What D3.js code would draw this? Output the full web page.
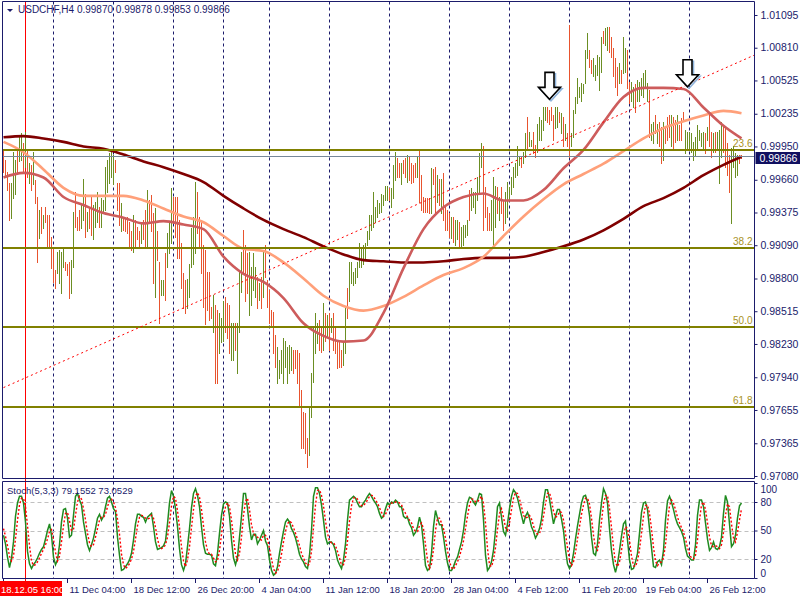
<!DOCTYPE html>
<html>
<head>
<meta charset="utf-8">
<script src="https://cdn.jsdelivr.net/npm/d3@7"></script>
<style>
  body { margin: 0; background: #fff; }
  svg { display: block; }
  text { font-family: "Liberation Sans", Arial, sans-serif; }
</style>
</head>
<body>
<svg id="chart" width="800" height="600"></svg>
<script>
// USDCHF H4 bars (high / low per bar, u = up bar, d = down bar)
var highs = [
  0.9992,0.9983,0.9973,0.9963,0.9963,0.9990,0.9983,0.9992,1.0003,1.0007,
  0.9998,1.0008,0.9992,0.9981,0.9979,0.9990,0.9966,0.9951,0.9940,0.9942,
  0.9935,0.9942,0.9935,0.9935,0.9916,0.9907,0.9887,0.9903,0.9905,0.9903,
  0.9907,0.9894,0.9893,0.9894,0.9896,0.9938,0.9955,0.9934,0.9940,0.9944,
  0.9967,0.9954,0.9938,0.9941,0.9951,0.9944,0.9947,0.9955,0.9942,0.9950,
  0.9948,0.9977,0.9983,0.9989,0.9992,0.9988,0.9983,0.9963,0.9963,0.9946,
  0.9934,0.9933,0.9934,0.9929,0.9921,0.9935,0.9931,0.9925,0.9921,0.9929,
  0.9931,0.9940,0.9957,0.9948,0.9953,0.9937,0.9941,0.9921,0.9894,0.9879,
  0.9879,0.9902,0.9920,0.9928,0.9959,0.9951,0.9951,0.9951,0.9931,0.9911,
  0.9885,0.9879,0.9880,0.9893,0.9924,0.9934,0.9964,0.9955,0.9934,0.9931,
  0.9909,0.9905,0.9886,0.9886,0.9855,0.9866,0.9857,0.9853,0.9850,0.9846,
  0.9860,0.9864,0.9859,0.9857,0.9841,0.9841,0.9841,0.9841,0.9887,0.9903,
  0.9922,0.9909,0.9902,0.9903,0.9890,0.9902,0.9890,0.9881,0.9876,0.9881,
  0.9903,0.9909,0.9879,0.9870,0.9853,0.9851,0.9831,0.9820,0.9809,0.9818,
  0.9828,0.9826,0.9820,0.9822,0.9820,0.9818,0.9818,0.9818,0.9815,0.9783,
  0.9764,0.9763,0.9741,0.9767,0.9798,0.9837,0.9850,0.9841,0.9844,0.9838,
  0.9859,0.9850,0.9848,0.9850,0.9846,0.9850,0.9838,0.9826,0.9825,0.9818,
  0.9824,0.9854,0.9872,0.9894,0.9894,0.9886,0.9889,0.9894,0.9911,0.9907,
  0.9909,0.9911,0.9921,0.9935,0.9935,0.9955,0.9942,0.9948,0.9946,0.9954,
  0.9953,0.9961,0.9961,0.9959,0.9959,0.9979,0.9990,0.9985,0.9981,0.9981,
  0.9983,0.9985,0.9988,0.9986,0.9981,0.9979,0.9981,0.9986,0.9992,0.9970,
  0.9951,0.9950,0.9950,0.9950,0.9976,0.9975,0.9977,0.9970,0.9967,0.9967,
  0.9972,0.9942,0.9940,0.9937,0.9934,0.9934,0.9931,0.9931,0.9929,0.9925,
  0.9927,0.9927,0.9931,0.9957,0.9959,0.9955,0.9955,0.9968,0.9989,0.9998,
  0.9995,0.9960,0.9942,0.9937,0.9948,0.9968,0.9961,0.9960,0.9951,0.9960,
  0.9948,0.9955,0.9964,0.9960,0.9968,0.9977,0.9981,0.9995,0.9986,0.9986,
  0.9990,1.0007,1.0021,1.0008,1.0001,1.0008,0.9996,1.0015,1.0021,1.0018,
  1.0029,1.0029,1.0029,1.0027,1.0029,1.0022,1.0029,1.0029,1.0025,1.0024,
  1.0021,1.0015,1.0007,1.0101,1.0007,1.0027,1.0038,1.0055,1.0047,1.0050,
  1.0049,1.0079,1.0094,1.0079,1.0070,1.0072,1.0066,1.0075,1.0073,1.0090,
  1.0096,1.0098,1.0099,1.0099,1.0090,1.0081,1.0072,1.0064,1.0068,1.0062,
  1.0090,1.0081,1.0079,1.0051,1.0051,1.0047,1.0049,1.0053,1.0051,1.0055,
  1.0059,1.0062,1.0050,1.0044,1.0015,1.0016,1.0022,1.0015,1.0016,1.0012,
  1.0016,1.0012,1.0021,1.0022,1.0022,1.0021,1.0018,1.0022,1.0014,1.0020,
  1.0025,1.0009,1.0008,1.0008,1.0007,0.9999,1.0003,1.0014,1.0009,1.0007,
  1.0008,1.0007,1.0012,1.0024,1.0008,1.0007,1.0008,1.0008,1.0009,1.0016,
  1.0012,1.0012,0.9998,0.9988,0.9994,0.9995,0.9989,0.9988,0.9988,0.9988
];
var lows = [
  0.9973,0.9968,0.9957,0.9931,0.9933,0.9950,0.9954,0.9973,0.9982,0.9983,
  0.9973,0.9977,0.9968,0.9963,0.9957,0.9962,0.9946,0.9894,0.9915,0.9920,
  0.9924,0.9929,0.9907,0.9907,0.9889,0.9877,0.9872,0.9885,0.9876,0.9867,
  0.9890,0.9887,0.9883,0.9863,0.9867,0.9890,0.9925,0.9922,0.9922,0.9924,
  0.9931,0.9916,0.9921,0.9924,0.9918,0.9914,0.9925,0.9929,0.9925,0.9925,
  0.9938,0.9940,0.9955,0.9963,0.9968,0.9962,0.9973,0.9940,0.9927,0.9921,
  0.9922,0.9921,0.9920,0.9907,0.9905,0.9903,0.9907,0.9914,0.9907,0.9911,
  0.9914,0.9907,0.9907,0.9928,0.9921,0.9876,0.9864,0.9896,0.9841,0.9866,
  0.9866,0.9861,0.9890,0.9902,0.9911,0.9928,0.9916,0.9898,0.9898,0.9872,
  0.9854,0.9850,0.9854,0.9864,0.9890,0.9893,0.9902,0.9920,0.9907,0.9885,
  0.9855,0.9840,0.9853,0.9844,0.9846,0.9833,0.9789,0.9789,0.9815,0.9825,
  0.9826,0.9833,0.9828,0.9815,0.9809,0.9809,0.9818,0.9798,0.9833,0.9868,
  0.9886,0.9860,0.9867,0.9848,0.9857,0.9870,0.9864,0.9854,0.9861,0.9854,
  0.9864,0.9881,0.9855,0.9841,0.9838,0.9815,0.9803,0.9789,0.9793,0.9798,
  0.9789,0.9803,0.9789,0.9798,0.9800,0.9798,0.9802,0.9789,0.9768,0.9732,
  0.9732,0.9728,0.9716,0.9726,0.9759,0.9790,0.9815,0.9824,0.9818,0.9816,
  0.9818,0.9826,0.9829,0.9818,0.9833,0.9818,0.9815,0.9802,0.9803,0.9803,
  0.9805,0.9815,0.9846,0.9860,0.9876,0.9874,0.9876,0.9881,0.9890,0.9890,
  0.9893,0.9896,0.9909,0.9914,0.9922,0.9925,0.9929,0.9934,0.9937,0.9938,
  0.9944,0.9948,0.9948,0.9948,0.9942,0.9950,0.9966,0.9968,0.9968,0.9962,
  0.9972,0.9968,0.9964,0.9966,0.9963,0.9964,0.9968,0.9968,0.9947,0.9940,
  0.9938,0.9938,0.9938,0.9937,0.9937,0.9962,0.9937,0.9947,0.9944,0.9937,
  0.9931,0.9922,0.9922,0.9916,0.9915,0.9912,0.9909,0.9914,0.9907,0.9907,
  0.9909,0.9916,0.9918,0.9931,0.9940,0.9942,0.9937,0.9948,0.9954,0.9977,
  0.9922,0.9934,0.9922,0.9922,0.9922,0.9907,0.9925,0.9937,0.9931,0.9937,
  0.9922,0.9928,0.9934,0.9948,0.9954,0.9960,0.9968,0.9970,0.9979,0.9977,
  0.9981,0.9986,0.9992,0.9995,0.9995,0.9989,0.9986,0.9990,1.0001,1.0001,
  1.0009,1.0018,1.0016,1.0015,1.0018,1.0001,1.0011,1.0012,1.0016,1.0007,
  0.9995,1.0001,0.9995,0.9986,0.9995,1.0003,1.0024,1.0033,1.0038,1.0035,
  1.0042,1.0050,1.0072,1.0064,1.0059,1.0056,1.0053,1.0057,1.0044,1.0060,
  1.0085,1.0083,1.0079,1.0077,1.0073,1.0056,1.0047,1.0040,1.0050,1.0050,
  1.0059,1.0060,1.0046,1.0033,1.0035,1.0029,1.0025,1.0035,1.0035,1.0040,
  1.0038,1.0047,1.0035,1.0003,1.0001,0.9998,1.0007,0.9998,0.9995,0.9981,
  0.9983,0.9998,1.0001,1.0003,0.9995,0.9994,0.9999,1.0001,1.0001,1.0001,
  1.0018,0.9989,0.9994,0.9992,0.9990,0.9983,0.9988,0.9994,1.0001,0.9995,
  0.9994,0.9989,1.0001,0.9995,0.9986,0.9990,0.9990,0.9992,0.9963,0.9986,
  0.9990,0.9977,0.9970,0.9955,0.9928,0.9977,0.9968,0.9970,0.9981,0.9985
];
var dirs = ("dddduuuduu" + "dudududdud" + "udddddduuu" + "uddduudddu" + "ududduuudu" +
  "uuuuuudddu" + "dddddudddu" + "dduddduddu" + "uduuuddddd" + "dduuuuuddd" +
  "dddddudduu" + "uddduuduuu" + "ddduuuudud" + "udddddduuu" + "uuuuuddddd" +
  "ddduuuuudd" + "udududdddd" + "uuduuuuuuu" + "uuuuuuuuuu" + "uuuduuuddu" +
  "dduddddudd" + "dddduddudu" + "dddduduudu" + "uuuduuuuuu" + "dddduuudud" +
  "duuuuuuuud" + "uuduudduuu" + "uudddduudu" + "dudduuuuuu" + "uuudduuuuu" +
  "duudddddud" + "uudduuduuu" + "uuuduududd" + "uddduddudd" + "duuuuuuuuu" +
  "ududduduuu" + "dddduuuudd").split("");

// moving averages, sampled every 10 bars
var maBars = [0,10,20,30,40,50,60,70,80,90,100,110,120,130,140,150,160,170,180,190,
  200,210,220,230,240,250,260,270,280,290,300,310,320,330,340,350,360,369];
var maSlow = [1.0003,1.0004,1.0002,0.9999,0.9995,0.9993,0.9988,0.9982,0.9977,0.9971,
  0.9964,0.9952,0.9941,0.9931,0.9923,0.9916,0.9908,0.9901,0.9896,0.9895,
  0.9894,0.9894,0.9895,0.9897,0.9898,0.9898,0.9899,0.9903,0.9908,0.9914,
  0.9922,0.9932,0.9943,0.9950,0.9959,0.9970,0.9979,0.9986];
var maMid = [0.9999,0.9990,0.9975,0.9959,0.9952,0.9952,0.9952,0.9948,0.9941,0.9934,
  0.9929,0.9917,0.9906,0.9904,0.9894,0.9880,0.9865,0.9856,0.9852,0.9856,
  0.9864,0.9874,0.9883,0.9889,0.9899,0.9917,0.9934,0.9949,0.9962,0.9971,
  0.9980,0.9991,1.0002,1.0011,1.0017,1.0022,1.0026,1.0024];
var maFast = [0.9968,0.9972,0.9968,0.9951,0.9944,0.9937,0.9933,0.9928,0.9930,0.9927,
  0.9923,0.9899,0.9884,0.9877,0.9863,0.9841,0.9830,0.9825,0.9826,0.9850,
  0.9889,0.9923,0.9942,0.9951,0.9954,0.9948,0.9948,0.9957,0.9976,0.9992,
  1.0016,1.0038,1.0046,1.0046,1.0045,1.0029,1.0013,1.0002];

// Stochastic(5,3,3): %K and %D per bar
var stochK = [
  45,36,22,11,21,38,65,79,86,86, 79,59,28,15,10,14,17,21,26,30,
  33,41,50,57,45,22,14,19,35,59, 72,73,63,43,45,66,86,89,82,77,
  59,47,35,29,35,42,52,63,67,61, 65,75,84,86,80,73,70,43,24,8,
  9,12,15,19,26,40,57,67,67,65, 64,59,64,66,68,54,38,30,31,32,
  34,39,57,79,92,86,73,54,31,14, 8,15,33,52,74,89,94,87,75,54,
  35,26,25,25,24,15,13,26,47,66, 78,80,79,65,40,21,14,22,43,65,
  89,89,73,54,40,46,46,36,40,45, 50,39,34,19,8,3,5,12,26,38,
  49,59,62,59,52,48,42,34,25,20, 17,12,10,24,50,86,95,95,89,77,
  61,43,36,38,38,35,29,19,14,10, 19,36,61,82,84,86,84,79,75,75,
  79,82,86,89,86,82,79,75,68,63, 65,73,79,77,80,79,82,80,75,75,
  65,63,64,57,53,45,48,54,64,56, 36,13,8,10,26,54,71,63,56,56,
  43,28,16,8,8,12,18,22,30,38, 50,67,79,85,84,80,77,82,89,88,
  61,24,8,11,17,29,50,75,79,64, 49,45,57,73,86,93,90,84,75,66,
  57,65,69,63,54,49,42,46,52,62, 80,93,93,83,70,57,65,72,72,62,
  50,30,15,10,14,26,41,55,67,79, 86,87,80,66,43,26,24,36,61,79,
  94,89,79,52,29,14,6,15,29,44, 57,60,40,19,9,10,17,26,47,69,
  79,80,72,52,32,12,11,17,19,14, 29,61,81,86,80,72,63,57,53,49,
  43,31,23,21,19,19,35,66,82,82, 75,58,41,29,32,38,31,30,33,43,
  68,87,80,57,33,36,45,63,76,79
];
var stochD = [
  52,44,34,23,18,23,41,61,77,84, 84,75,55,34,18,13,14,17,21,26,
  30,35,41,49,51,41,27,18,23,38, 55,68,69,60,50,51,66,80,86,83,
  73,61,47,37,33,35,43,52,61,64, 64,67,75,82,83,80,74,62,46,25,
  14,10,12,15,20,28,41,55,64,66, 65,63,62,63,66,63,53,41,33,31,
  32,35,43,58,76,86,84,71,53,33, 18,12,19,33,53,72,86,90,85,72,
  55,38,29,25,25,21,17,18,29,46, 64,75,79,75,61,42,25,19,26,43,
  66,81,84,72,56,47,44,43,41,40, 45,45,41,31,20,10,5,7,14,25,
  38,49,57,60,58,53,47,41,34,26, 21,16,13,15,28,53,77,92,93,87,
  76,60,47,39,37,37,34,28,21,14, 14,22,39,60,76,84,85,83,79,76,
  76,79,82,86,87,86,82,79,74,69, 65,67,72,76,79,79,80,80,79,77,
  72,68,64,61,58,52,49,49,55,58, 52,35,19,10,15,30,50,63,63,58,
  52,42,29,17,11,9,13,17,23,30, 39,52,65,77,83,83,80,80,83,86,
  79,58,31,14,12,19,32,51,68,73, 64,53,50,58,72,84,90,89,83,75,
  66,63,64,66,62,55,48,46,47,53, 65,78,89,90,82,70,64,65,70,69,
  61,47,32,18,13,17,27,41,54,67, 77,84,84,78,63,45,31,29,40,59,
  78,87,87,73,53,32,16,12,17,29, 43,54,52,40,23,13,12,18,30,47,
  65,76,77,68,52,32,18,13,16,17, 21,35,57,76,82,79,72,64,58,53,
  48,41,32,25,21,20,24,40,61,77, 80,72,58,43,34,33,34,33,31,35,
  48,66,78,75,57,42,38,48,61,73
];

var priceTicks = [1.01095,1.00810,1.00525,1.00235,0.99950,0.99660,0.99375,0.99090,
  0.98800,0.98515,0.98230,0.97940,0.97655,0.97365,0.97080];
var stochTicks = [100, 80, 50, 20, 0];
var stochLevels = [80, 50, 20];
var timeLabels = ["11 Dec 04:00","18 Dec 12:00","26 Dec 20:00","4 Jan 04:00","11 Jan 12:00",
  "18 Jan 20:00","28 Jan 04:00","4 Feb 12:00","11 Feb 20:00","19 Feb 04:00","26 Feb 12:00"];
var timeLabelBars = [32,64,96,128,160,192,224,256,288,320,352];
var weekStartBars = [25,55,85,110,133,163,193,223,253,283,313,343];
var cursorBar = 11, cursorLabel = "18.12.05 16:00";
var fibHigh = 1.0130, fibLow = 0.9545, fibLevels = [23.6, 38.2, 50.0, 61.8];
var trendBars = [0, 376], trendPrices = [0.9785, 1.0075];
var arrowBars = [273, 342], arrowPrices = [1.0036, 1.0047];
var lastOHLC = [0.99870, 0.99878, 0.99853, 0.99866];
var stochTitle = "Stoch(5,3,3) 79.1552 73.0529";

var upColor = "#6b8e23", downColor = "#e8542e", navy = "#1b1b6b";
var left = 2.5, right = 754.5, mainTop = 1.5, mainBottom = 478.5, stTop = 481.5, stBottom = 578.5;

var svg = d3.select("#chart");
var x = d3.scaleLinear().domain([0, 369]).range([3.5, 741.5]);
var y = d3.scaleLinear().domain([0.97080, 1.01095]).range([476, 15]);
var ys = d3.scaleLinear().domain([0, 100]).range([578, 483]);

var defs = svg.append("defs");
defs.append("clipPath").attr("id", "clipMain").append("rect")
  .attr("x", left).attr("y", mainTop).attr("width", right - left).attr("height", mainBottom - mainTop);
defs.append("clipPath").attr("id", "clipStoch").append("rect")
  .attr("x", left).attr("y", stTop).attr("width", right - left).attr("height", stBottom - stTop);

// weekly separators
svg.append("g").selectAll("line").data(weekStartBars).join("line")
  .attr("x1", function (d) { return x(d); }).attr("x2", function (d) { return x(d); })
  .attr("y1", mainTop).attr("y2", stBottom)
  .attr("stroke", navy).attr("stroke-dasharray", "3,3");

// cursor line
svg.append("line").attr("x1", x(cursorBar)).attr("x2", x(cursorBar))
  .attr("y1", mainTop).attr("y2", 581).attr("stroke", "#ff0000");

var main = svg.append("g").attr("clip-path", "url(#clipMain)");

// price bars
main.append("g").selectAll("line").data(highs).join("line")
  .attr("x1", function (d, i) { return x(i); }).attr("x2", function (d, i) { return x(i); })
  .attr("y1", function (d) { return Math.round(y(d)); })
  .attr("y2", function (d, i) { return Math.round(y(lows[i])) + 1; })
  .attr("stroke", function (d, i) { return dirs[i] === "u" ? upColor : downColor; });

// moving averages
var maLine = d3.line().x(function (d, i) { return x(maBars[i]); }).y(function (d) { return y(d); })
  .curve(d3.curveMonotoneX);
[[maSlow, "#800000"], [maMid, "#ffa07a"], [maFast, "#cd5c5c"]].forEach(function (m) {
  main.append("path").attr("d", maLine(m[0])).attr("fill", "none")
    .attr("stroke", m[1]).attr("stroke-width", 2.6);
});

// fibonacci levels
fibLevels.forEach(function (lvl) {
  var py = Math.round(y(fibHigh - (fibHigh - fibLow) * lvl / 100));
  main.append("line").attr("x1", left).attr("x2", right).attr("y1", py).attr("y2", py)
    .attr("stroke", "#808000").attr("stroke-width", 2);
  main.append("text").attr("x", right - 2).attr("y", py - 3).attr("text-anchor", "end")
    .attr("font-size", 10).attr("fill", "#a8921e").text(d3.format(".1f")(lvl));
});

// last price line
var lastY = Math.round(y(lastOHLC[3])) + 0.5;
main.append("line").attr("x1", left).attr("x2", right).attr("y1", lastY).attr("y2", lastY)
  .attr("stroke", "#778899");

// trend line (ray)
var slope = (trendPrices[1] - trendPrices[0]) / (trendBars[1] - trendBars[0]);
var endBar = x.invert(right);
main.append("line")
  .attr("x1", x(trendBars[0])).attr("y1", y(trendPrices[0]))
  .attr("x2", right).attr("y2", y(trendPrices[0] + slope * (endBar - trendBars[0])))
  .attr("stroke", "#ff0000").attr("stroke-dasharray", "2,3");

// arrows
function arrowPath(cx, ty, dx) {
  return "M" + (cx - 4.5 + dx) + "," + (ty - 27) + "H" + (cx + 4.5 + dx) + "V" + (ty - 12) +
    "H" + (cx + 11 + dx) + "L" + (cx + dx) + "," + ty + "L" + (cx - 11 + dx) + "," + (ty - 12) +
    "H" + (cx - 4.5 + dx) + "Z";
}
arrowBars.forEach(function (b, i) {
  var cx = x(b), ty = y(arrowPrices[i]);
  main.append("path").attr("d", arrowPath(cx, ty + 1.5, 1.5)).attr("fill", "none")
    .attr("stroke", "#8fb4dc").attr("stroke-width", 1.6);
  main.append("path").attr("d", arrowPath(cx, ty, 0)).attr("fill", "#fff")
    .attr("stroke", "#000").attr("stroke-width", 1.6);
});

// stochastic panel
var st = svg.append("g").attr("clip-path", "url(#clipStoch)");
st.selectAll("line.lvl").data(stochLevels).join("line").attr("class", "lvl")
  .attr("x1", left).attr("x2", right)
  .attr("y1", function (d) { return Math.round(ys(d)) + 0.5; })
  .attr("y2", function (d) { return Math.round(ys(d)) + 0.5; })
  .attr("stroke", "#c0c0c0").attr("stroke-dasharray", "4,3");
var stLine = d3.line().x(function (d, i) { return x(i); }).y(function (d) { return ys(d); });
st.append("path").attr("d", stLine(stochK)).attr("fill", "none")
  .attr("stroke", "#1f8a1f").attr("stroke-width", 1.5);
st.append("path").attr("d", stLine(stochD)).attr("fill", "none")
  .attr("stroke", "#ff0000").attr("stroke-width", 1.4).attr("stroke-dasharray", "2,2");

// frames
svg.append("path")
  .attr("d", "M" + left + "," + mainTop + "H" + right + "V" + mainBottom + "H" + left + "Z" +
    "M" + left + "," + stTop + "H" + right + "V" + stBottom + "H" + left + "Z")
  .attr("fill", "none").attr("stroke", navy);

// price axis
var pAxis = svg.append("g").attr("transform", "translate(" + right + ",0)")
  .call(d3.axisRight(y).tickValues(priceTicks).tickSize(3).tickPadding(3).tickFormat(d3.format(".5f")));
pAxis.select(".domain").remove();
pAxis.selectAll("line").attr("stroke", navy);
pAxis.selectAll("text").attr("fill", navy).attr("font-size", 10.5).attr("dy", "0.3em")
  .attr("font-family", "Liberation Sans, Arial, sans-serif");

// last price marker
svg.append("rect").attr("x", right + 1).attr("y", lastY - 4.5).attr("width", 45).attr("height", 12)
  .attr("fill", "#101060");
svg.append("text").attr("x", right + 5).attr("y", lastY + 5).attr("fill", "#fff")
  .attr("font-size", 10.5).text(d3.format(".5f")(lastOHLC[3]));

// stochastic axis
var sAxis = svg.append("g").attr("transform", "translate(" + right + ",0)")
  .call(d3.axisRight(ys).tickValues(stochTicks).tickSize(3).tickPadding(3));
sAxis.select(".domain").remove();
sAxis.selectAll("line").attr("stroke", navy);
sAxis.selectAll("text").attr("fill", navy).attr("font-size", 10)
  .attr("font-family", "Liberation Sans, Arial, sans-serif")
  .attr("dy", function (d) { return d === 100 ? "0.9em" : d === 0 ? "-0.2em" : "0.32em"; });

// time axis
var tg = svg.append("g");
tg.selectAll("line").data([0].concat(timeLabelBars)).join("line")
  .attr("x1", function (d) { return x(d); }).attr("x2", function (d) { return x(d); })
  .attr("y1", stBottom).attr("y2", 583).attr("stroke", navy);
tg.selectAll("text").data(timeLabels).join("text")
  .attr("x", function (d, i) { return x(timeLabelBars[i]) + 2; }).attr("y", 593)
  .attr("font-size", 9.5).attr("fill", navy).text(function (d) { return d; });
tg.append("rect").attr("x", 0).attr("y", 581).attr("width", 62).attr("height", 15).attr("fill", "#ff0000");
tg.append("text").attr("x", 1).attr("y", 592.5).attr("font-size", 9.5).attr("fill", "#fff").text(cursorLabel);

// titles
svg.append("path").attr("d", "M7,9H13L10,12Z").attr("fill", navy);
svg.append("text").attr("x", 18).attr("y", 13).attr("font-size", 10).attr("fill", navy)
  .text("USDCHF,H4  " + lastOHLC.map(d3.format(".5f")).join(" "));
svg.append("text").attr("x", 7).attr("y", 494).attr("font-size", 9.5).attr("fill", navy).text(stochTitle);
</script>
</body>
</html>
